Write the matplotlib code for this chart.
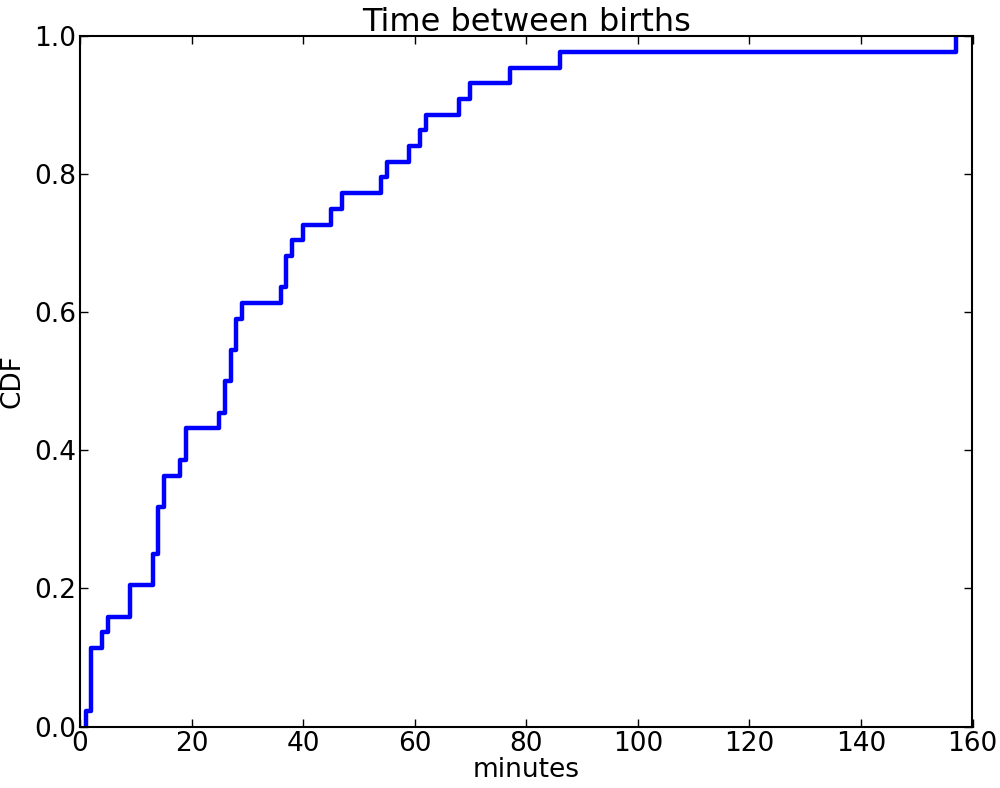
"""
CDF of the time between births
"""

import numpy as np
import matplotlib
matplotlib.use('Agg')
from matplotlib import pyplot as plt

# distinct intervals (minutes) and how many times each occurs
minutes = [1, 2, 4, 5, 9, 13, 14, 15, 18, 19, 25, 26, 27, 28, 29, 36, 37, 38,
           40, 45, 47, 54, 55, 59, 61, 62, 68, 70, 77, 86, 157]
counts = [1, 4, 1, 1, 2, 2, 3, 2, 1, 2, 1, 2, 2, 2, 1, 1, 2, 1,
          1, 1, 1, 1, 1, 1, 1, 1, 1, 1, 1, 1, 1]

x_ticks = [0, 20, 40, 60, 80, 100, 120, 140, 160]
y_ticks = [0.0, 0.2, 0.4, 0.6, 0.8, 1.0]


def plot_cdf(values, freqs):
    xs = np.asarray(values, dtype=float)
    ps = np.cumsum(freqs) / float(np.sum(freqs))
    # start at zero so the first jump is drawn
    xs = np.concatenate([[xs[0]], xs])
    ps = np.concatenate([[0.0], ps])

    fig = plt.figure(figsize=(10, 7.88), dpi=100)
    ax = fig.add_axes([0.08, 0.078, 0.8925, 0.876])
    ax.step(xs, ps, where='post', color='blue', linewidth=3.2)

    ax.set_xlim(0, 160)
    ax.set_ylim(0, 1)
    ax.set_xticks(x_ticks)
    ax.set_yticks(y_ticks)
    ax.set_yticklabels(['%.1f' % t for t in y_ticks])
    ax.tick_params(direction='in', length=6, width=1, labelsize=19,
                   top=True, right=True, pad=3)
    for sp in ax.spines.values():
        sp.set_linewidth(1.5)

    ax.set_title('Time between births', fontsize=23, pad=4)
    ax.set_xlabel('minutes', fontsize=19, labelpad=0)
    ax.set_ylabel('CDF', fontsize=19, labelpad=6)
    fig.savefig('out.png', dpi=100)


plot_cdf(minutes, counts)
